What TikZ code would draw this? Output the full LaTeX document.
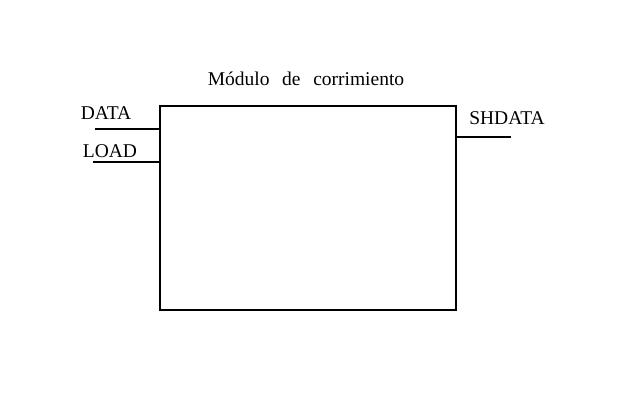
\documentclass[tikz,border=0pt]{standalone}
\usepackage{fontspec}
\setmainfont{Liberation Serif}
\usetikzlibrary{positioning}

\begin{document}
\begin{tikzpicture}[x=1pt, y=-1pt, font=\fontsize{19.5}{22}\selectfont, line width=1.4pt]
    \useasboundingbox (0,0) rectangle (630,408);
    \node (shifter) [rectangle, draw, minimum width=296pt, minimum height=204pt, inner sep=0pt] at (308,208) {};
    \node (title) [above=16pt of shifter.north, xshift=-2pt] {M\'odulo\hspace{0.65em}de\hspace{0.65em}corrimiento};

    \coordinate (datain) at (95,129);
    \coordinate (loadin) at (93,162);
    \coordinate (shout) at (511,137);

    \node (datalbl) at (106,113) {DATA};
    \node (loadlbl) at (110,151) {LOAD};
    \node (shlbl) at (507,118) {SHDATA};

    \draw (datain) -- (datain -| shifter.west);
    \draw (loadin) -- (loadin -| shifter.west);
    \draw (shout -| shifter.east) -- (shout);
\end{tikzpicture}
\end{document}
